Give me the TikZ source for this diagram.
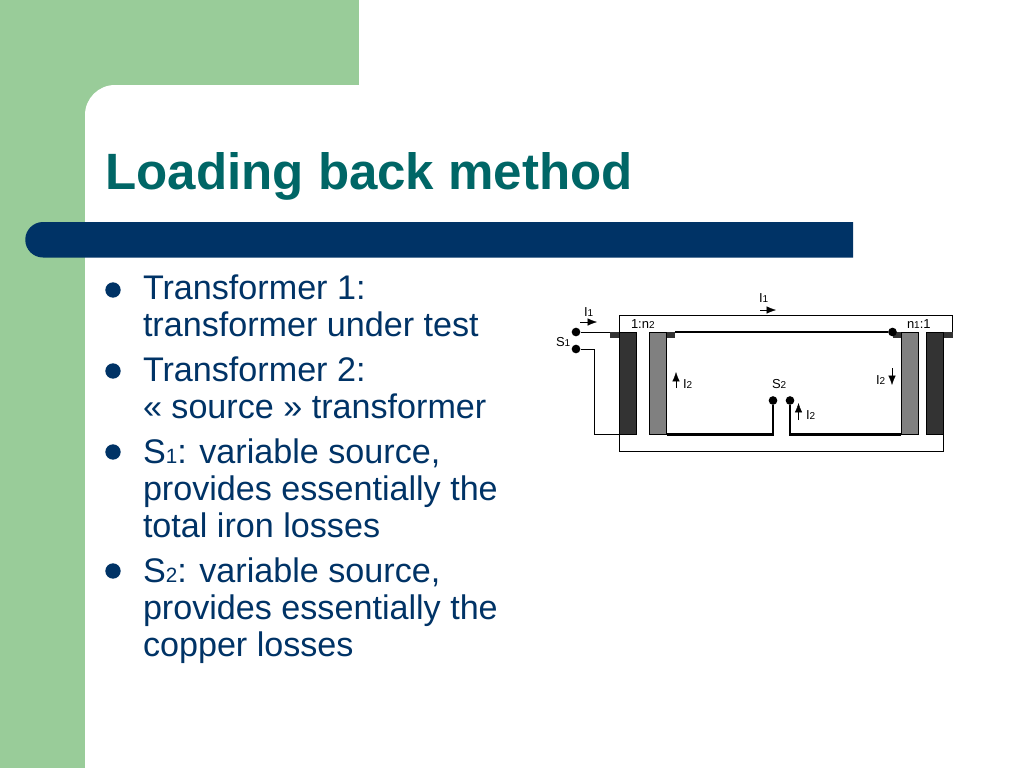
\documentclass[tikz,border=0pt]{standalone}
\usepackage{fontspec}
\setmainfont{Liberation Sans}
\usetikzlibrary{arrows.meta}
\definecolor{slidegreen}{RGB}{153, 204, 153}
\definecolor{slidenavy}{RGB}{0, 51, 102}
\definecolor{slideteal}{RGB}{0, 102, 102}
\definecolor{coredark}{RGB}{51, 51, 51}
\definecolor{coregray}{RGB}{128, 128, 128}
\newcommand{\smalldigit}[1]{{\fontsize{15.5}{18}\selectfont #1}}
\newcommand{\tinydigit}[1]{{\fontsize{7.5}{8}\selectfont #1}}
\tikzset{
  bodytext/.style={anchor=base west, inner sep=0pt, outer sep=0pt, align=left, text=slidenavy, font=\fontsize{25.6}{27.75}\selectfont},
  bulletdot/.style={circle, fill=slidenavy, inner sep=0pt, minimum size=11.5pt},
  woundcore/.style={draw=black, line width=0.5pt, inner sep=0pt, outer sep=0pt, minimum width=13pt, minimum height=77pt, anchor=north west},
  corelip/.style={fill=coredark, inner sep=0pt, outer sep=0pt, minimum width=6.5pt, minimum height=4.3pt, anchor=north west},
  terminal/.style={circle, fill=black, inner sep=0pt, minimum size=6.5pt},
  lab/.style={anchor=base west, inner sep=0pt, outer sep=0pt, font=\fontsize{9.75}{11}\selectfont},
  thinwire/.style={draw=black, line width=0.75pt},
  thickwire/.style={draw=black, line width=1.9pt},
  flow/.style={-{Latex[length=7pt,width=5.5pt]}, line width=0.3pt}
}
\begin{document}
\begin{tikzpicture}[x=0.75pt, y=-0.75pt]
  \useasboundingbox (0,0) rectangle (1024,768);
  % Slide background
  \fill[slidegreen] (0,0) rectangle (1024,768);
  \fill[white] (359,0) rectangle (1024,85);
  \fill[white] (115,85) -- (1024,85) -- (1024,768) -- (85,768) -- (85,115) arc[start angle=180, end angle=270, radius=30] -- cycle;
  \fill[slidenavy] (853,222) -- (853,257.5) -- (43,257.5) arc[start angle=90, end angle=270, radius=17.75] -- cycle;

  % Title
  \node[anchor=base west, inner sep=0pt, text=slideteal, font=\fontsize{38.3}{40}\selectfont\bfseries] (title) at (105,189) {Loading back method};

  % Bullets
  \node[bulletdot] (dotA) at (113,290) {};
  \node[bulletdot] (dotB) at (113,371) {};
  \node[bulletdot] (dotC) at (113,452) {};
  \node[bulletdot] (dotD) at (113,571) {};
  \node[bodytext] (lineA) at (143,299) {Transformer 1:};
  \node[bodytext] (lineB) at (143,336) {transformer under test};
  \node[bodytext] (lineC) at (143,381) {Transformer 2:};
  \node[bodytext] (lineD) at (143,418) {« source » transformer};
  \node[bodytext] (lineE) at (143,463) {S\smalldigit{1}: variable source,};
  \node[bodytext] (lineF) at (143,500) {provides essentially the};
  \node[bodytext] (lineG) at (143,537) {total iron losses};
  \node[bodytext] (lineH) at (143,582) {S\smalldigit{2}: variable source,};
  \node[bodytext] (lineI) at (143,619) {provides essentially the};
  \node[bodytext] (lineJ) at (143,656) {copper losses};

  % Cores
  \node[woundcore, fill=coredark] (coreA) at (619,332) {};
  \node[woundcore, fill=coregray] (coreB) at (649.3,332) {};
  \node[woundcore, fill=coregray] (coreC) at (901,332) {};
  \node[woundcore, fill=coredark] (coreD) at (926.3,332) {};
  \node[corelip] (lipA) at (610.3,332) {};
  \node[corelip] (lipB) at (666.7,332) {};
  \node[corelip] (lipC) at (892.5,332) {};
  \node[corelip] (lipD) at (944,332) {};

  % Terminals
  \node[terminal] (sa) at (576,332) {};
  \node[terminal] (sb) at (576,349) {};
  \node[terminal] (sc) at (892.5,332) {};
  \node[terminal] (sd) at (773,400.5) {};
  \node[terminal] (se) at (790,400.5) {};

  % Outer loop
  \draw[thinwire] (coreA.north west) -- ++(0,-17) -| (lipD.north east);
  \draw[thinwire] (coreA.south west) -- ++(0,17) -| (coreD.south east);

  % Source 1 wires
  \draw[thinwire] (sa) -- (lipA.north west);
  \draw[thinwire] (sb) -- ++(18,0) |- (coreA.south west);

  % Source 2 wires
  \draw[thickwire] (lipB.north east) -- (sc);
  \draw[thickwire] (coreB.south east) -| (sd);
  \draw[thickwire] (coreC.south west) -| (se);

  % Current arrows
  \coordinate (flowAa) at (580,322);
  \coordinate (flowAb) at (597,322);
  \coordinate (flowBa) at (760,310);
  \coordinate (flowBb) at (776,310);
  \coordinate (flowCa) at (676,388);
  \coordinate (flowCb) at (676,372);
  \coordinate (flowDa) at (892,368);
  \coordinate (flowDb) at (892,385);
  \coordinate (flowEa) at (798.5,420);
  \coordinate (flowEb) at (798.5,403);
  \draw[flow] (flowAa) -- (flowAb);
  \draw[flow] (flowBa) -- (flowBb);
  \draw[flow] (flowCa) -- (flowCb);
  \draw[flow] (flowDa) -- (flowDb);
  \draw[flow] (flowEa) -- (flowEb);

  % Labels
  \node[lab] (labA) at (584,316) {I\tinydigit{1}};
  \node[lab] (labB) at (759,302) {I\tinydigit{1}};
  \node[lab] (labC) at (556,346) {S\tinydigit{1}};
  \node[lab] (labD) at (772,388.5) {S\tinydigit{2}};
  \node[lab] (labE) at (631,328) {1:n\tinydigit{2}};
  \node[lab] (labF) at (907,328) {n\tinydigit{1}:1};
  \node[lab] (labG) at (683,388.5) {I\tinydigit{2}};
  \node[lab] (labH) at (876,384) {I\tinydigit{2}};
  \node[lab] (labI) at (806,419) {I\tinydigit{2}};
\end{tikzpicture}
\end{document}
